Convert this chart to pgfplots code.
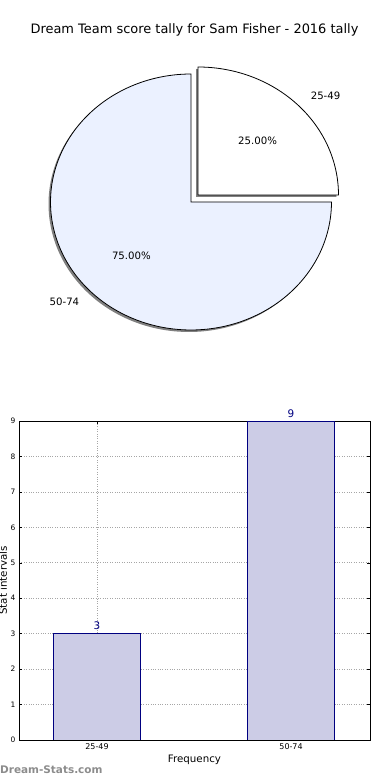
\documentclass[border=0pt]{standalone}
\usepackage{pgfplots}
\pgfplotsset{compat=1.18}
\usepackage{fontspec}
\setmainfont{DejaVu Sans}
\definecolor{pieblue}{RGB}{235,241,255}
\definecolor{barfill}{RGB}{204,204,230}
\definecolor{navy}{RGB}{0,0,128}
\definecolor{wm}{RGB}{140,140,140}
\begin{document}
\begin{tikzpicture}
\node[font=\fontsize{13}{15}\selectfont] at (194.5bp,750bp) {Dream Team score tally for Sam Fisher - 2016 tally};
% pie data: counts per interval
\pgfmathsetmacro{\vA}{3}
\pgfmathsetmacro{\vB}{9}
\pgfmathsetmacro{\angA}{360*\vA/(\vA+\vB)}
\pgfmathsetmacro{\midA}{\angA/2}
\pgfmathsetmacro{\midB}{(\angA+360)/2}
\pgfmathsetmacro{\cxA}{198}\pgfmathsetmacro{\cyA}{585}
\pgfmathsetmacro{\cxB}{191}\pgfmathsetmacro{\cyB}{578}
\pgfmathsetmacro{\rx}{140.5}\pgfmathsetmacro{\ry}{128}
\begin{axis}[at={(0bp,390bp)}, anchor=south west, scale only axis, width=390bp, height=390bp,
  xmin=0, xmax=390, ymin=390, ymax=780, hide axis, clip=false]
% shadows
\addplot[draw=none, fill=black!50, domain=\angA:360, samples=150, variable=\t]
  ({\cxB-2+\rx*cos(\t)},{\cyB-2+\ry*sin(\t)}) -- (\cxB-2,\cyB-2) -- cycle;
\addplot[draw=none, fill=black!50, domain=0:\angA, samples=80, variable=\t]
  ({\cxA-2+\rx*cos(\t)},{\cyA-2+\ry*sin(\t)}) -- (\cxA-2,\cyA-2) -- cycle;
% wedges
\addplot[draw=black, line width=0.8bp, fill=pieblue, domain=\angA:360, samples=150, variable=\t]
  ({\cxB+\rx*cos(\t)},{\cyB+\ry*sin(\t)}) -- (\cxB,\cyB) -- cycle;
\addplot[draw=black, line width=0.8bp, fill=white, domain=0:\angA, samples=80, variable=\t]
  ({\cxA+\rx*cos(\t)},{\cyA+\ry*sin(\t)}) -- (\cxA,\cyA) -- cycle;
% labels
\node[font=\fontsize{10.2}{12}\selectfont] at ({\cxA+0.6*\rx*cos(\midA)},{\cyA+0.6*\ry*sin(\midA)}) {25.00\%};
\node[font=\fontsize{10.2}{12}\selectfont, anchor=west] at ({\cxA+1.1*\rx*cos(\midA)},{\cyA+1.1*\ry*sin(\midA)}) {25-49};
\node[font=\fontsize{10.2}{12}\selectfont] at ({\cxB+0.6*\rx*cos(\midB)},{\cyB+0.6*\ry*sin(\midB)}) {75.00\%};
\node[font=\fontsize{10.2}{12}\selectfont, anchor=east] at ({\cxB+1.1*\rx*cos(\midB)+1},{\cyB+1.1*\ry*sin(\midB)}) {50-74};
\end{axis}
\begin{axis}[at={(19bp,40bp)}, anchor=south west, scale only axis, width=351bp, height=319bp,
  xmin=-0.402, xmax=1.407, ymin=0, ymax=9,
  ybar=0pt, bar width=0.448,
  xtick={0,1}, xticklabels={25-49,50-74}, ytick={0,1,...,9},
  grid=major, grid style={dotted, black!35, line width=0.7bp},
  /pgf/number format/assume math mode=true,
  yticklabel style={font=\fontsize{7.5}{9}\selectfont},
  xticklabel style={font=\fontsize{8}{9}\selectfont},
  xlabel={Frequency}, ylabel={Stat intervals},
  label style={font=\fontsize{10.3}{12}\selectfont},
  xlabel style={at={(axis description cs:0.5,0)}, anchor=center, yshift=-20bp},
  ylabel style={at={(axis description cs:-0.0456,0.5)}, anchor=center},
  nodes near coords,
  nodes near coords style={text=navy, font=\fontsize{10.5}{12}\selectfont},
  axis line style={black, line width=0.8bp},
  major tick length=3bp, tick style={black, line width=0.5bp}, tick align=inside]
\addplot[fill=barfill, draw=navy, line width=0.7bp] coordinates {(0,3) (1,9)};
\end{axis}
\node[font=\bfseries\fontsize{10.5}{12}\selectfont, text=wm, anchor=west, inner sep=0pt] at (0bp,10bp) {Dream-Stats.com};
\pgfresetboundingbox
\path[use as bounding box] (0bp,0bp) rectangle (390bp,780bp);
\end{tikzpicture}
\end{document}
